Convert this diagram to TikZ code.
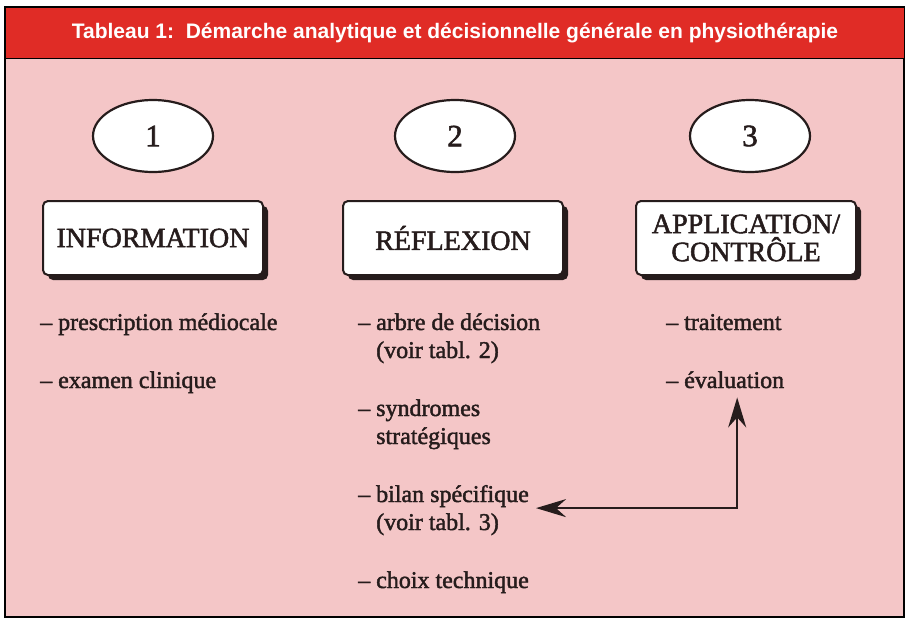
\documentclass[tikz,border=0pt]{standalone}
\usepackage{fontspec}
\setmainfont{Liberation Serif}[FakeBold=1.8]
\newfontfamily\titlefont{Liberation Sans}
\usetikzlibrary{shapes.geometric,shadows,arrows.meta}

\definecolor{redbar}{RGB}{224,44,38}
\definecolor{pinkbg}{RGB}{244,198,199}
\definecolor{ink}{RGB}{38,28,28}

\tikzset{
  numoval/.style={ellipse, draw=ink, line width=2.2pt, fill=white, text=ink,
    minimum width=120pt, minimum height=72pt, font=\fontsize{31}{31}\selectfont},
  stagebox/.style={draw=ink, line width=2pt, rounded corners=5pt, fill=white, text=ink,
    minimum width=220pt, minimum height=74pt, align=center, font=\fontsize{28}{28}\selectfont,
    drop shadow={shadow xshift=5pt, shadow yshift=-5pt, fill=ink, opacity=1}},
  itemtext/.style={anchor=base west, align=left, inner sep=4pt, text=ink,
    font=\fontsize{24}{28}\selectfont},
  bigtip/.tip={Stealth[length=30pt,width=18pt,inset=10pt]},
}

\begin{document}
\begin{tikzpicture}[x=1pt,y=-1pt]
                \useasboundingbox (0,0) rectangle (906,619);
                % frame and title bar
                \draw[line width=1.5pt, fill=pinkbg] (5,7) rectangle (904,617);
                \draw[line width=1pt, fill=redbar] (5,7) rectangle (904,58);
                \node[font=\titlefont\bfseries\fontsize{21}{24}\selectfont, text=white] (title) at (455,33)
                    {Tableau 1:\ \ Démarche analytique et décisionnelle générale en physiothérapie};
                % steps
                \node[numoval] (n1) at (153,136) {1};
                \node[numoval] (n2) at (455,136) {2};
                \node[numoval] (n3) at (750,136) {3};
                \node[stagebox] (s1) at (153,238) {INFORMATION};
                \node[stagebox] (s2) at (453,238) {RÉFLEXION};
                \node[stagebox] (s3) at (746,238) {APPLICATION/\\CONTRÔLE};
                % column 1
                \node[itemtext] (a1) at (36,330) {-- prescription médiocale};
                \node[itemtext] (a2) at (36,388) {-- examen clinique};
                % column 2 (base = last line)
                \node[itemtext] (b1) at (354,358) {-- arbre de décision\\\hphantom{-- }(voir tabl. 2)};
                \node[itemtext] (b2) at (354,444) {-- syndromes\\\hphantom{-- }stratégiques};
                \node[itemtext] (b3) at (354,530) {-- bilan spécifique\\\hphantom{-- }(voir tabl. 3)};
                \node[itemtext] (b4) at (354,588) {-- choix technique};
                % column 3
                \node[itemtext] (c1) at (662,330) {-- traitement};
                \node[itemtext] (c2) at (662,388) {-- évaluation};
                % feedback arrow
                \draw[ink, line width=2.6pt, bigtip-bigtip]
                    ([xshift=3pt,yshift=2pt]b3.east) -| ([xshift=12pt,yshift=-5pt]c2.south);
            \end{tikzpicture}
\end{document}
